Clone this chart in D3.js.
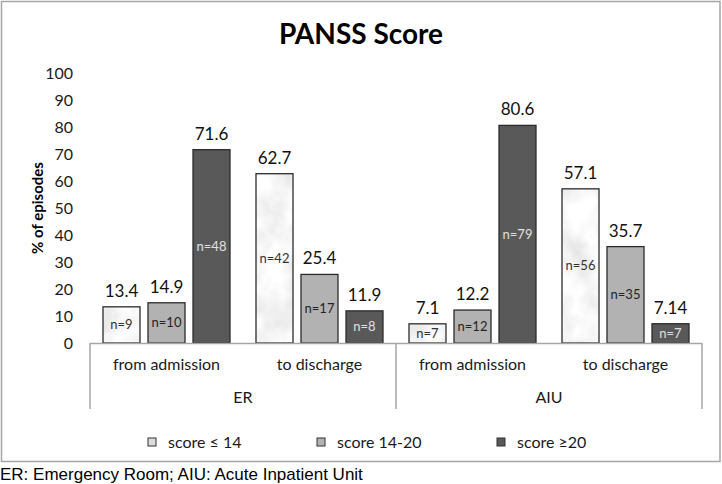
<!DOCTYPE html>
<html>
<head>
<meta charset="utf-8">
<script src="https://cdn.jsdelivr.net/npm/d3@7"></script>
<style>
  html, body { margin: 0; padding: 0; background: #fff; }
  svg { display: block; }
</style>
</head>
<body>
<script>
// ---- data ----
const categories = ["from admission", "to discharge", "from admission", "to discharge"];
const groups = ["ER", "AIU"];
const series = ["score \u2264 14", "score 14-20", "score \u226520"];
const lowValues = [13.4, 62.7, 7.1, 57.1];
const midValues = [14.9, 25.4, 12.2, 35.7];
const highValues = [71.6, 11.9, 80.6, 7.14];
const lowN = [9, 42, 7, 56];
const midN = [10, 17, 12, 35];
const highN = [48, 8, 79, 7];
const yTicks = [0, 10, 20, 30, 40, 50, 60, 70, 80, 90, 100];
const title = "PANSS Score";
const yTitle = "% of episodes";
const footnote = "ER: Emergency Room; AIU: Acute Inpatient Unit";

const W = 722, H = 484;
const font = "Lato, 'Open Sans', sans-serif";
const svg = d3.select("body").append("svg").attr("width", W).attr("height", H);

// marble texture filter for the light series
const defs = svg.append("defs");
const f = defs.append("filter").attr("id", "marble").attr("x", 0).attr("y", 0).attr("width", 1).attr("height", 1);
f.append("feTurbulence").attr("type", "fractalNoise").attr("baseFrequency", "0.035 0.03").attr("numOctaves", 4).attr("seed", 7).attr("result", "noise");
f.append("feColorMatrix").attr("in", "noise").attr("type", "matrix")
  .attr("values", "0.45 0 0 0 0.7  0.45 0 0 0 0.7  0.45 0 0 0 0.71  0 0 0 0 1").attr("result", "gray");
f.append("feComposite").attr("in", "gray").attr("in2", "SourceGraphic").attr("operator", "in");

// outer frame
svg.append("rect").attr("x", 1.5).attr("y", 1.5).attr("width", 718.5).attr("height", 460)
  .attr("fill", "#fff").attr("stroke", "#a6a6a6").attr("stroke-width", 1.5);

// title
svg.append("text").attr("x", 361).attr("y", 44).attr("text-anchor", "middle")
  .attr("font-family", font).attr("font-weight", "bold").attr("font-size", 28).attr("fill", "#000")
  .text(title);

// scales
const x0 = d3.scaleBand().domain(d3.range(categories.length)).range([90, 702]);
const x1 = d3.scaleBand().domain(d3.range(series.length)).range([13, x0.bandwidth() - 13]).paddingInner(8 / 45);
const y = d3.scaleLinear().domain([0, 100]).range([343, 73]);

// y axis
const yAxis = d3.axisLeft(y).tickValues(yTicks).tickSize(0).tickPadding(3).tickFormat(d3.format("d"));
const ya = svg.append("g").attr("transform", "translate(76,0)").call(yAxis);
ya.select(".domain").remove();
ya.selectAll("text").attr("font-family", font).attr("font-size", 16).attr("fill", "#1a1a1a");

svg.append("text").attr("transform", "translate(38,208) rotate(-90)").attr("text-anchor", "middle")
  .attr("font-family", font).attr("font-weight", "bold").attr("font-size", 15).attr("fill", "#000")
  .attr("dy", "0.35em").text(yTitle);

// bars
const seriesValues = [lowValues, midValues, highValues];
const seriesN = [lowN, midN, highN];
const fills = ["#ececee", "#b2b2b2", "#595959"];
const nColors = ["#333", "#222", "#e0e0e0"];

const bars = [];
categories.forEach((c, ci) => {
  series.forEach((s, si) => {
    bars.push({ ci, si, v: seriesValues[si][ci], n: seriesN[si][ci] });
  });
});

const bg = svg.append("g");
bars.forEach(b => {
  const bx = x0(b.ci) + x1(b.si);
  const bw = x1.bandwidth();
  if (b.si === 0) {
    bg.append("rect").attr("x", bx).attr("y", y(b.v)).attr("width", bw).attr("height", y(0) - y(b.v))
      .attr("fill", "#ddd").attr("filter", "url(#marble)");
    bg.append("rect").attr("x", bx).attr("y", y(b.v)).attr("width", bw).attr("height", y(0) - y(b.v))
      .attr("fill", "none").attr("stroke", "#2b2b2b").attr("stroke-width", 1.3);
  } else {
    bg.append("rect").attr("x", bx).attr("y", y(b.v)).attr("width", bw).attr("height", y(0) - y(b.v))
      .attr("fill", fills[b.si]).attr("stroke", "#2b2b2b").attr("stroke-width", 1.3);
  }
  // value label
  bg.append("text").attr("x", bx + bw / 2).attr("y", y(b.v) - 10).attr("text-anchor", "middle")
    .attr("font-family", font).attr("font-size", 17).attr("fill", "#111").text(String(b.v));
  // n label
  bg.append("text").attr("x", bx + bw / 2).attr("y", y(Math.min(b.v / 2, 46)) + 4.5).attr("text-anchor", "middle")
    .attr("font-family", font).attr("font-size", 13).attr("fill", nColors[b.si]).text("n=" + b.n);
});

// category axis
const axisColor = "#a6a6a6";
svg.append("line").attr("x1", x0.range()[0]).attr("x2", x0.range()[1]).attr("y1", y(0) + 0.5).attr("y2", y(0) + 0.5)
  .attr("stroke", axisColor).attr("stroke-width", 1.5);
[0, 2, 4].forEach(i => {
  const xx = i < categories.length ? x0(i) : x0.range()[1];
  svg.append("line").attr("x1", xx).attr("x2", xx).attr("y1", y(0)).attr("y2", 409)
    .attr("stroke", axisColor).attr("stroke-width", 1.5);
});
categories.forEach((c, ci) => {
  svg.append("text").attr("x", x0(ci) + x0.bandwidth() / 2).attr("y", 370).attr("text-anchor", "middle")
    .attr("font-family", font).attr("font-size", 16).attr("fill", "#1a1a1a").text(c);
});
groups.forEach((g, gi) => {
  svg.append("text").attr("x", x0(gi * 2) + x0.bandwidth()).attr("y", 403).attr("text-anchor", "middle")
    .attr("font-family", font).attr("font-size", 16).attr("fill", "#1a1a1a").text(g);
});

// legend
const legendX = [148, 317, 497];
series.forEach((s, si) => {
  const lg = svg.append("g").attr("transform", `translate(${legendX[si]},438)`);
  lg.append("rect").attr("width", 8).attr("height", 8).attr("fill", si === 0 ? "#dcdcdc" : fills[si])
    .attr("stroke", "#333").attr("stroke-width", 1);
  lg.append("text").attr("x", 20).attr("y", 4).attr("dy", "0.35em")
    .attr("font-family", font).attr("font-size", 16).attr("fill", "#1a1a1a").text(s);
});

// footnote
svg.append("text").attr("x", 0).attr("y", 480)
  .attr("font-family", "'Liberation Sans', Arial, sans-serif").attr("font-size", 17).attr("fill", "#000")
  .text(footnote);
</script>
</body>
</html>
